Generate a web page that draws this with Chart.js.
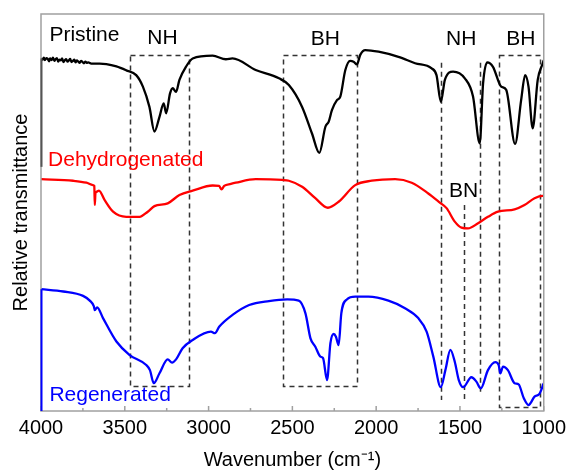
<!DOCTYPE html>
<html><head><meta charset="utf-8">
<script src="https://cdn.jsdelivr.net/npm/chart.js@4"></script>
<style>html,body{margin:0;padding:0;background:#fff}#wrap{width:571px;height:470px}</style>
</head><body><div id="wrap"><canvas id="c" width="571" height="470"></canvas></div>
<script>
// ---- Data (wavenumber in cm-1, relative transmittance in arbitrary units) ----
const pristineWn = [4000,3992,3983,3977,3968,3960,3951,3946,3937,3929,3920,3914,3905,3897,3889,3882,3874,3866,3857,3850,3841,3834,3826,3818,3809,3801,3794,3786,3777,3769,3761,3752,3744,3735,3727,3718,3700,3650,3610,3550,3491,3432,3392,3353,3323,3293,3268,3253,3230,3214,3194,3174,3135,3095,2976,2897,2857,2719,2580,2521,2442,2383,2339,2303,2283,2264,2234,2214,2184,2155,2135,2115,2095,2065,1986,1867,1768,1669,1640,1614,1590,1541,1471,1422,1382,1362,1337,1303,1254,1224,1171,1135,1111,1091,1066,1036,1006,1000];
const pristineT  = [88.8,88.5,89.0,88.4,88.9,88.7,88.1,88.8,88.4,89.0,88.2,88.6,88.9,88.0,88.5,88.3,88.8,87.9,88.4,88.6,88.0,88.3,88.7,87.9,88.2,88.5,87.8,88.3,88.0,87.7,88.2,87.9,87.6,88.0,87.7,87.8,87.5,87.5,87.4,86.8,85.8,84.6,81.7,76.6,70.4,74.1,77.5,75.0,80.0,81.3,80.4,83.4,86.7,88.8,89.5,88.6,88.8,85.9,83.8,82.1,76.6,69.9,65.0,71.6,72.9,75.8,78.3,79.2,85.9,88.2,88.0,87.3,89.7,90.9,90.5,89.2,87.6,86.3,84.6,77.9,83.4,85.5,83.8,79.2,67.4,82.5,87.8,86.7,81.7,80.9,67.3,78.3,84.6,81.7,71.2,83.4,87.6,88.4];

const dehydroWn = [4000,3808,3729,3690,3682,3679,3675,3669,3654,3620,3570,3491,3412,3363,3323,3244,3174,3095,2976,2937,2923,2907,2867,2838,2719,2561,2521,2442,2363,2288,2224,2125,2026,1887,1788,1689,1620,1580,1531,1491,1452,1392,1333,1273,1174,1115,1055,1006,1000];
const dehydroT  = [58.4,58.0,57.5,56.9,56.7,51.9,54.9,55.2,55.5,53.1,50.2,48.9,48.9,50.2,51.6,52.3,54.4,55.5,56.8,56.7,55.8,56.7,57.2,57.5,58.4,58.2,58.0,56.5,53.6,51.2,52.7,56.9,58.0,58.4,57.5,54.8,52.5,51.1,47.7,46.2,46.0,47.3,48.9,50.2,50.8,51.9,53.6,54.2,54.2];

const regenWn = [4000,3867,3749,3709,3685,3679,3665,3630,3550,3471,3372,3350,3327,3293,3244,3218,3194,3155,3095,2986,2962,2937,2857,2758,2640,2531,2462,2422,2392,2363,2333,2317,2293,2273,2254,2240,2224,2208,2175,2125,2046,1927,1828,1749,1699,1659,1614,1587,1557,1531,1507,1481,1432,1402,1376,1333,1289,1269,1259,1243,1214,1174,1150,1119,1091,1055,1026,1000];
const regenT  = [30.7,30.1,29.0,27.8,26.4,25.4,26.1,23.4,17.5,14.1,11.6,10.3,7.0,9.5,13.0,12.2,13.0,15.8,17.9,20.0,19.6,21.2,24.2,26.7,27.7,28.1,27.8,24.6,18.3,16.2,13.7,13.3,7.8,17.1,19.4,18.7,16.6,24.6,28.1,28.8,28.8,27.8,25.9,23.4,20.0,13.7,6.0,10.3,15.4,12.4,7.8,6.0,8.5,7.4,5.7,10.3,12.3,11.6,9.5,11.2,10.3,7.0,6.7,3.2,1.5,3.6,4.3,7.0];

const xTickValues = [4000,3500,3000,2500,2000,1500,1000];
const xMinorTicks = [3750,3250,2750,2250,1750,1250];

// dashed boxes
const boxLeftWn  = [3467, 2557, 1269];
const boxRightWn = [3117, 2115, 1022];
const boxTopT    = [89.7, 89.7, 89.7];
const boxBottomT = [6.2, 6.2, 1.1];
// dashed vertical lines
const vLineWn     = [1614, 1380, 1477];
const vLineTopT   = [87.7, 87.7, 51.9];
const vLineBottomT= [2.8, 4.8, 2.8];

// annotation labels
const labelText = ['Pristine','NH','BH','NH','BH','Dehydrogenated','BN','Regenerated'];
const labelWn   = [3950, 3275, 2304, 1493, 1137, 3958, 1478, 3950];
const labelT    = [94.7, 93.8, 93.6, 93.6, 93.6, 63.2, 55.3, 3.9];
const labelColor= ['#000','#000','#000','#000','#000','#ff0000','#000','#0000ff'];
const labelAlign= ['left','center','center','center','center','left','center','left'];

const FONT = "'Liberation Sans', Arial, Helvetica, sans-serif";
const pts = (xs, ys) => xs.map((v,i)=>({x:v, y:ys[i]}));

const annot = {
  id: 'annot',
  beforeDatasetsDraw(chart) {
    const {ctx, scales:{x, y}} = chart;
    ctx.save();
    ctx.strokeStyle = '#333';
    ctx.lineWidth = 1.5;
    ctx.setLineDash([5,4]);
    for (let i=0;i<boxLeftWn.length;i++){
      const l = Math.round(x.getPixelForValue(boxLeftWn[i]))+0.5, r = Math.round(x.getPixelForValue(boxRightWn[i]))+0.5;
      const t = Math.round(y.getPixelForValue(boxTopT[i]))+0.5, b = Math.round(y.getPixelForValue(boxBottomT[i]))+0.5;
      ctx.beginPath(); ctx.rect(l, t, r-l, b-t); ctx.stroke();
    }
    for (let i=0;i<vLineWn.length;i++){
      const px = Math.round(x.getPixelForValue(vLineWn[i]))+0.5;
      ctx.beginPath();
      ctx.moveTo(px, y.getPixelForValue(vLineTopT[i]));
      ctx.lineTo(px, y.getPixelForValue(vLineBottomT[i]));
      ctx.stroke();
    }
    ctx.restore();
  },
  afterDraw(chart) {
    const {ctx, chartArea:a, scales:{x, y}} = chart;
    ctx.save();
    // frame
    ctx.strokeStyle = '#a0a0a0'; ctx.lineWidth = 1.5;
    ctx.strokeRect(a.left, a.top, a.right-a.left, a.bottom-a.top);
    // inward ticks
    ctx.beginPath();
    xTickValues.forEach(v=>{ const px=x.getPixelForValue(v); ctx.moveTo(px,a.bottom); ctx.lineTo(px,a.bottom-5); });
    xMinorTicks.forEach(v=>{ const px=x.getPixelForValue(v); ctx.moveTo(px,a.bottom); ctx.lineTo(px,a.bottom-3); });
    ctx.stroke();
    // curve edge segments on the left axis
    ctx.lineWidth = 2;
    ctx.strokeStyle = '#555';
    ctx.beginPath(); ctx.moveTo(a.left+0.5, y.getPixelForValue(pristineT[0])); ctx.lineTo(a.left+0.5, y.getPixelForValue(61.5)); ctx.stroke();
    ctx.strokeStyle = '#0000ff';
    ctx.beginPath(); ctx.moveTo(a.left+0.5, y.getPixelForValue(regenT[0])); ctx.lineTo(a.left+0.5, a.bottom); ctx.stroke();
    // labels
    ctx.font = '21px ' + FONT;
    ctx.textBaseline = 'middle';
    for (let i=0;i<labelText.length;i++){
      ctx.fillStyle = labelColor[i];
      ctx.textAlign = labelAlign[i];
      ctx.fillText(labelText[i], x.getPixelForValue(labelWn[i]), y.getPixelForValue(labelT[i]));
    }
    ctx.restore();
  }
};

const ds = (label, xs, ys, color, tension) => ({
  label, data: pts(xs, ys), borderColor: color, backgroundColor: color,
  borderWidth: 2.3, pointRadius: 0, fill: false,
  cubicInterpolationMode: 'monotone', tension: 0.4
});

new Chart(document.getElementById('c'), {
  type: 'line',
  data: { datasets: [
    ds('Pristine', pristineWn, pristineT, '#000000'),
    ds('Dehydrogenated', dehydroWn, dehydroT, '#ff0000'),
    ds('Regenerated', regenWn, regenT, '#0000ff')
  ]},
  options: {
    responsive: false, animation: false, devicePixelRatio: 1,
    layout: { padding: { top: 14, right: 25, left: 0, bottom: 0 } },
    plugins: { legend: { display: false }, tooltip: { enabled: false } },
    scales: {
      x: {
        type: 'linear', reverse: true, min: 1000, max: 4000,
        afterBuildTicks: s => { s.ticks = xTickValues.map(v=>({value:v})); },
        afterFit: s => { s.height = 59; },
        grid: { display: false, drawTicks: false },
        border: { display: false },
        ticks: { padding: 5, color: '#000', font: { size: 20, family: FONT }, maxRotation: 0, autoSkip: false,
                 callback: v => String(v) },
        title: { display: true, text: 'Wavenumber (cm\u207B\u00B9)', color: '#000',
                 font: { size: 20, family: FONT, lineHeight: 1 }, padding: { top: 0, bottom: 0 } }
      },
      y: {
        type: 'linear', min: 0, max: 100,
        afterFit: s => { s.width = 41; },
        grid: { display: false, drawTicks: false },
        border: { display: false },
        ticks: { display: false },
        title: { display: true, text: 'Relative transmittance', color: '#000',
                 font: { size: 20, family: FONT, lineHeight: 1 }, padding: { top: 11, bottom: 0 } }
      }
    }
  },
  plugins: [annot]
});
</script></body></html>
